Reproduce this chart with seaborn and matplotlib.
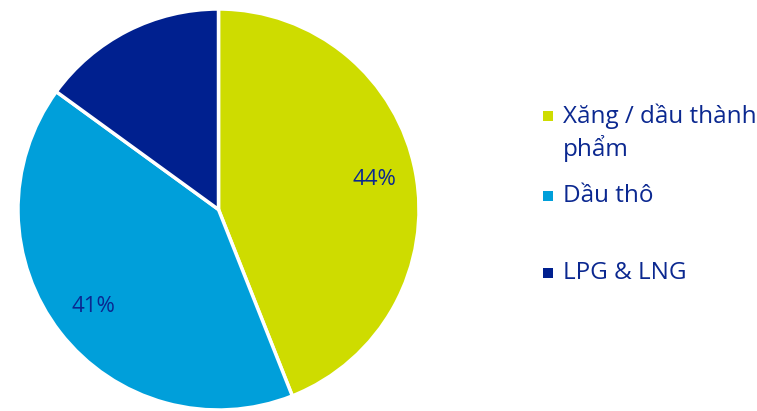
import matplotlib
matplotlib.use("Agg")
import numpy as np
import matplotlib.pyplot as plt
import matplotlib.patches as mpatches
import seaborn as sns

# Data
categories = ["Xăng / dầu thành\nphẩm", "Dầu thô", "LPG & LNG"]
shares = [44, 41, 15]
show_label = [True, True, False]
colors = ["#CEDC00", "#009FDA", "#00208F"]
TEXT_COLOR = "#0B2890"

sns.set_theme(style="white")
plt.rcParams["font.family"] = ["Open Sans", "DejaVu Sans"]

fig = plt.figure(figsize=(7.57, 4.11), dpi=100)
ax = fig.add_axes([18 / 757, 1 / 411, 401 / 757, 401 / 411])

wedges, _ = ax.pie(
    shares,
    colors=colors,
    startangle=90,
    counterclock=False,
    wedgeprops=dict(edgecolor="white", linewidth=2.5),
)

# percentage labels inside the slices
for w, val, show in zip(wedges, shares, show_label):
    mid = np.deg2rad((w.theta1 + w.theta2) / 2)
    if show:
        ax.text(0.79 * np.cos(mid), 0.79 * np.sin(mid), f"{val}%",
                ha="center", va="center", fontsize=16, color=TEXT_COLOR)

ax.set_xlim(-1.0, 1.0)
ax.set_ylim(-1.0, 1.0)
ax.set_aspect("equal")
ax.axis("off")

# Manual legend (marker aligned with first line of label)
W, H = 757, 411
legend_y = [116, 196, 273]
for cat, col, y in zip(categories, colors, legend_y):
    fig.patches.append(mpatches.Rectangle(
        (543 / W, (H - y - 5) / H), 10 / W, 10 / H,
        transform=fig.transFigure, facecolor=col, edgecolor="none"))
    for i, line in enumerate(cat.split("\n")):
        fig.text(563 / W, (H - y - 32 * i) / H, line, ha="left", va="center",
                 fontsize=17.5, color=TEXT_COLOR)

fig.savefig("out.png", dpi=100)
